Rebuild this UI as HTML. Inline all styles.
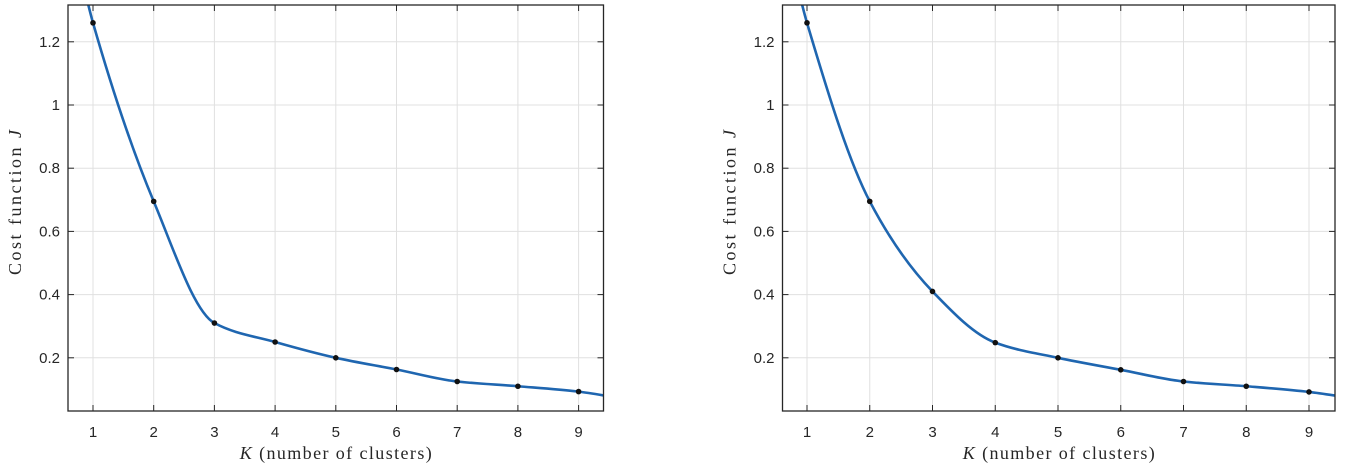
<!DOCTYPE html>
<html><head><meta charset="utf-8"><style>
body{margin:0;background:#fff;width:1345px;height:470px;overflow:hidden}
svg{display:block}
.t{font-family:"Liberation Sans",sans-serif;font-size:15px;fill:#262626}
.l{font-family:"Liberation Serif",serif;font-size:18px;fill:#262626}
</style></head><body>
<svg id="s" width="1345" height="470" xmlns="http://www.w3.org/2000/svg"></svg>
<script>
const s=document.getElementById('s');let h='';
function plot(L,R,x1,dx,data){
 const T=5,B=411,y0=421,ky=316;
 const X=k=>x1+(k-1)*dx, Y=v=>y0-v*ky;
 const id='c'+L;
 h+=`<defs><clipPath id="${id}"><rect x="${L}" y="${T}" width="${R-L}" height="${B-T}"/></clipPath></defs>`;
 for(let k=1;k<=9;k++){h+=`<line x1="${X(k)}" y1="${T}" x2="${X(k)}" y2="${B}" stroke="#e0e0e0"/>`;}
 [0.2,0.4,0.6,0.8,1,1.2].forEach(v=>{h+=`<line x1="${L}" y1="${Y(v)}" x2="${R}" y2="${Y(v)}" stroke="#e0e0e0"/>`;});
 let P=[[0.85,data[0]+(data[0]-data[1])*0.2],...data.map((v,i)=>[i+1,v]),[9.6,0.075]];
 const n=P.length,del=[],m=[];
 for(let i=0;i<n-1;i++)del.push((P[i+1][1]-P[i][1])/(P[i+1][0]-P[i][0]));
 m[0]=del[0];m[n-1]=del[n-2];
 for(let i=1;i<n-1;i++){ if(del[i-1]*del[i]<=0)m[i]=0; else{const h0=P[i][0]-P[i-1][0],h1=P[i+1][0]-P[i][0];const w1=2*h1+h0,w2=h1+2*h0;m[i]=(w1+w2)/(w1/del[i-1]+w2/del[i]);}}
 let d=`M${X(P[0][0])},${Y(P[0][1])}`;
 for(let i=0;i<n-1;i++){
  const hh=P[i+1][0]-P[i][0];
  const a=[P[i][0]+hh/3,P[i][1]+m[i]*hh/3],b=[P[i+1][0]-hh/3,P[i+1][1]-m[i+1]*hh/3];
  d+=` C${X(a[0])},${Y(a[1])} ${X(b[0])},${Y(b[1])} ${X(P[i+1][0])},${Y(P[i+1][1])}`;
 }
 h+=`<path d="${d}" fill="none" stroke="#1f66b0" stroke-width="2.6" clip-path="url(#${id})"/>`;
 data.forEach((v,i)=>{h+=`<circle cx="${X(i+1)}" cy="${Y(v)}" r="2.8" fill="#111"/>`;});
 h+=`<rect x="${L}" y="${T}" width="${R-L}" height="${B-T}" fill="none" stroke="#262626" stroke-width="1.3"/>`;
 for(let k=1;k<=9;k++){h+=`<line x1="${X(k)}" y1="${B}" x2="${X(k)}" y2="${B-6}" stroke="#262626"/><line x1="${X(k)}" y1="${T}" x2="${X(k)}" y2="${T+6}" stroke="#262626"/><text class="t" x="${X(k)}" y="${B+26}" text-anchor="middle">${k}</text>`;}
 [0.2,0.4,0.6,0.8,1,1.2].forEach(v=>{h+=`<line x1="${L}" y1="${Y(v)}" x2="${L+6}" y2="${Y(v)}" stroke="#262626"/><line x1="${R}" y1="${Y(v)}" x2="${R-6}" y2="${Y(v)}" stroke="#262626"/><text class="t" x="${L-8}" y="${Y(v)+5}" text-anchor="end">${v}</text>`;});
 const cx=(L+R)/2;
 h+=`<text class="l" x="${cx-96}" y="459" textLength="192" lengthAdjust="spacing"><tspan font-style="italic">K</tspan> (number of clusters)</text>`;
 h+=`<text class="l" transform="translate(${L-47},275) rotate(-90)" textLength="145" lengthAdjust="spacing">Cost function <tspan font-style="italic">J</tspan></text>`;
}
plot(68,603.5,93,60.7,[1.26,0.695,0.31,0.25,0.20,0.163,0.125,0.11,0.093]);
plot(782.5,1335,807,62.75,[1.26,0.695,0.41,0.248,0.20,0.162,0.125,0.11,0.092]);
s.innerHTML=h;
</script>
</body></html>
